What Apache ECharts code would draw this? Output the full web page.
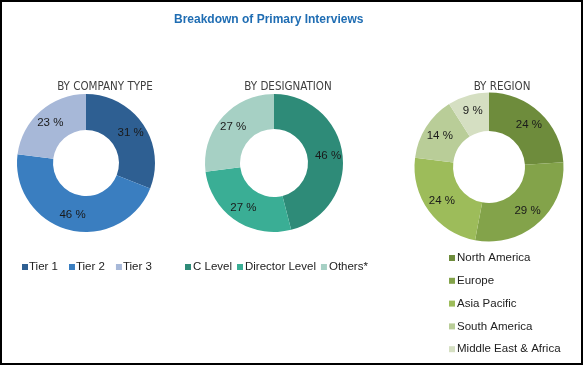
<!DOCTYPE html>
<html>
<head>
<meta charset="utf-8">
<script src="https://cdn.jsdelivr.net/npm/echarts@6/dist/echarts.min.js"></script>
<style>
html,body{margin:0;padding:0;background:#fff;}
#c{width:584px;height:367px;}
</style>
</head>
<body>
<div id="c"></div>
<script>
const titleText = 'Breakdown of Primary Interviews';
const subtitles = ['BY COMPANY TYPE', 'BY DESIGNATION', 'BY REGION'];

const companyCats = ['Tier 1', 'Tier 2', 'Tier 3'];
const companyVals = [31, 46, 23];
const companyColors = ['#2E5F92', '#3A7EC0', '#A7B8D8'];

const designationCats = ['C Level', 'Director Level', 'Others*'];
const designationVals = [46, 27, 27];
const designationColors = ['#2E8B78', '#3AAE95', '#A6D0C4'];

const regionCats = ['North America', 'Europe', 'Asia Pacific', 'South America', 'Middle East & Africa'];
const regionVals = [24, 29, 24, 14, 9];
const regionColors = ['#6E8C3C', '#83A34A', '#9DBC5A', '#B9CD98', '#D5DFC2'];

function mk(cats, vals, colors) {
  return cats.map((c, i) => ({ name: c, value: vals[i], itemStyle: { color: colors[i] } }));
}

const chart = echarts.init(document.getElementById('c'), null, { renderer: 'canvas' });
const labelStyle = {
  show: true, position: 'inside', formatter: '{c} %',
  color: '#1a1a1a', fontSize: 11.5, fontFamily: 'Liberation Sans, Arial, sans-serif'
};
const legendText = { color: '#222', fontSize: 11.5, fontFamily: 'Liberation Sans, Arial, sans-serif' };
const subStyle = { color: '#404040', fontSize: 11.5, fontWeight: 'normal', fontFamily: '"DejaVu Sans Condensed", "Liberation Sans Narrow", sans-serif' };

chart.setOption({
  animation: false,
  backgroundColor: '#fff',
  title: [
    { text: titleText, left: 169, top: 9, textStyle: { color: '#1F6DB3', fontSize: 12, fontWeight: 'bold', fontFamily: 'Liberation Sans, Arial, sans-serif' } },
    { text: subtitles[0], left: 100, top: 76, textAlign: 'center', textStyle: subStyle },
    { text: subtitles[1], left: 283, top: 76, textAlign: 'center', textStyle: subStyle },
    { text: subtitles[2], left: 497, top: 76, textAlign: 'center', textStyle: subStyle }
  ],
  legend: [
    { data: companyCats, left: 22, top: 261, padding: 0, itemWidth: 6, itemHeight: 6, itemGap: 11, icon: 'rect', textStyle: Object.assign({ padding: [0, 0, 0, -4] }, legendText) },
    { data: designationCats, left: 185, top: 261, padding: 0, itemWidth: 6, itemHeight: 6, itemGap: 5, icon: 'rect', textStyle: Object.assign({ padding: [0, 0, 0, -3] }, legendText) },
    { data: regionCats, orient: 'vertical', left: 449, top: 252, padding: 0, itemWidth: 6, itemHeight: 6, itemGap: 10.8, icon: 'rect', textStyle: Object.assign({ padding: [0, 0, 0, -3] }, legendText) }
  ],
  graphic: [
    { type: 'rect', shape: { x: 1, y: 1, width: 581, height: 363 }, style: { fill: 'none', stroke: '#000', lineWidth: 2 }, silent: true }
  ],
  series: [
    { type: 'pie', center: [86, 163], radius: [33, 69], startAngle: 90, clockwise: true, label: labelStyle, labelLine: { show: false }, data: mk(companyCats, companyVals, companyColors) },
    { type: 'pie', center: [274, 163], radius: [34, 69], startAngle: 90, clockwise: true, label: labelStyle, labelLine: { show: false }, data: mk(designationCats, designationVals, designationColors) },
    { type: 'pie', center: [489, 167], radius: [36, 74.5], startAngle: 90, clockwise: true, label: labelStyle, labelLine: { show: false }, data: mk(regionCats, regionVals, regionColors) }
  ]
});
</script>
</body>
</html>
